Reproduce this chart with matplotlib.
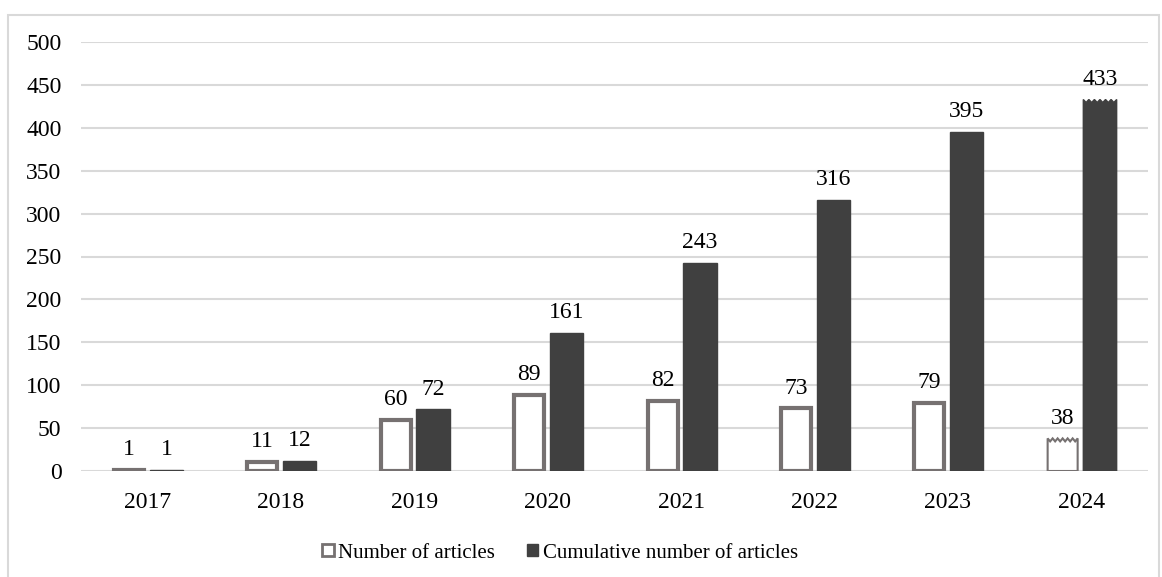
import matplotlib
matplotlib.use("Agg")
import matplotlib.pyplot as plt
from matplotlib.patches import Rectangle
import numpy as np

years = ["2017", "2018", "2019", "2020", "2021", "2022", "2023", "2024"]
articles = [1, 11, 60, 89, 82, 73, 79, 38]
cumulative = [1, 12, 72, 161, 243, 316, 395, 433]
partial_year = "2024"  # incomplete year, drawn with a torn top

plt.rcParams["font.family"] = ["Liberation Serif", "DejaVu Serif"]

W, H = 1162, 577
fig = plt.figure(figsize=(W / 100, H / 100), dpi=100)
ax = fig.add_axes([81 / W, 1 - 471 / H, (1148 - 81) / W, (471 - 42) / H])

# light frame around the whole chart
fig.patches.append(Rectangle((8 / W, -0.01), (1159 - 8) / W, (1 - 15 / H) + 0.01,
                             transform=fig.transFigure, fill=False,
                             edgecolor="#d9d9d9", linewidth=1.5))

x = np.arange(len(years))
bw = 0.245
off = 0.14
edge_gray = "#767171"
dark = "#404040"
fs = 17


def torn_bar(xc, h, width, teeth=6, depth=3.5):
    xs = np.linspace(xc - width / 2, xc + width / 2, 2 * teeth + 1)
    ys = [h if i % 2 == 0 else h - depth for i in range(len(xs))]
    px = [xc - width / 2] + list(xs) + [xc + width / 2]
    py = [0] + ys + [0]
    return px, py


for i, yr in enumerate(years):
    a, c = articles[i], cumulative[i]
    if yr == partial_year:
        px, py = torn_bar(x[i] - off, a, bw - 0.02)
        ax.fill(px, py, facecolor="white", edgecolor=edge_gray, linewidth=1.5, zorder=3)
        px, py = torn_bar(x[i] + off, c, bw + 0.005)
        ax.fill(px, py, facecolor=dark, edgecolor=dark, linewidth=1.0, zorder=3)
    else:
        ax.bar(x[i] - off, a, width=bw - 0.02, facecolor="white",
               edgecolor=edge_gray, linewidth=3, zorder=3)
        ax.bar(x[i] + off, c, width=bw + 0.005, facecolor=dark,
               edgecolor=dark, linewidth=1, zorder=3)
    ax.annotate(str(a), (x[i] - off, a), xytext=(0, 7), textcoords="offset points",
                ha="center", va="bottom", fontsize=fs, color="#000000")
    ax.annotate(str(c), (x[i] + off, c), xytext=(0, 7), textcoords="offset points",
                ha="center", va="bottom", fontsize=fs, color="#000000")

ax.set_xlim(-0.5, len(years) - 0.5)
ax.set_ylim(0, 500)
ax.set_yticks(np.arange(0, 501, 50))
ax.set_xticks(x)
ax.set_xticklabels(years)
ax.tick_params(axis="both", length=0, labelsize=fs, colors="#000000")
ax.tick_params(axis="x", pad=15)
ax.tick_params(axis="y", pad=14)
ax.grid(axis="y", color="#d9d9d9", linewidth=1.5, zorder=0)
for s in ax.spines.values():
    s.set_visible(False)

h1 = Rectangle((0, 0), 1, 1, facecolor="white", edgecolor=edge_gray, linewidth=2)
h2 = Rectangle((0, 0), 1, 1, facecolor=dark, edgecolor=dark)
leg = fig.legend([h1, h2], ["Number of articles", "Cumulative number of articles"],
                 loc="center", bbox_to_anchor=(560 / W, 1 - 553 / H), ncol=2, frameon=False,
                 fontsize=15, handlelength=0.55, handleheight=0.55, handletextpad=0.2,
                 columnspacing=1.55)

fig.savefig("out.png", dpi=100, facecolor="white")
